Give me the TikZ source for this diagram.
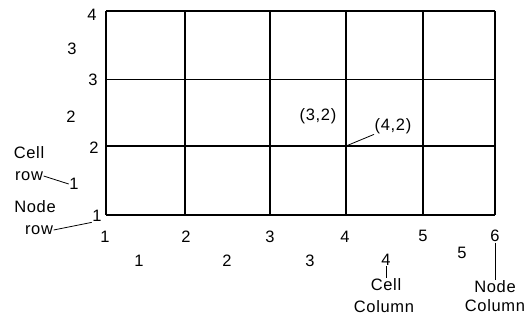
\documentclass[tikz,border=0pt]{standalone}
\usepackage{fontspec}
\setmainfont{Liberation Sans}[LetterSpace=4]
\begin{document}
\begin{tikzpicture}[x=1pt,y=-1pt,
  lbl/.style={inner sep=0.5pt,font=\fontsize{16.5}{18}\selectfont},
  thick grid/.style={line width=1.5pt},
  thin grid/.style={line width=0.8pt},
  leader/.style={line width=0.8pt}]
\useasboundingbox (0,0) rectangle (529,322);
% horizontal lines
\draw[thick grid] (106,11) -- (495,11);
\draw[thin grid] (106,79) -- (495,79);
\draw[thick grid] (106,146) -- (495,146);
\draw[thick grid] (106,215) -- (495,215);
% vertical lines
\foreach \x in {106,185,270,346,423,495}
  \draw[thick grid] (\x,11) -- (\x,215);
\coordinate (p42) at (346,146);
% node row labels
\node[lbl] (nr4) at (92,15) {4};
\node[lbl] (nr3) at (93,80) {3};
\node[lbl] (nr2) at (94,148) {2};
\node[lbl] (nr1) at (97,216) {1};
% cell row labels
\node[lbl] (cr3) at (72,49) {3};
\node[lbl] (cr2) at (71,117) {2};
\node[lbl] (cr1) at (74,184) {1};
\node[lbl] (cellw) at (29,153) {Cell};
\node[lbl] (cellrow) at (29,176) {row};
\node[lbl] (nodew) at (35,207) {Node};
\node[lbl] (noderow) at (39,230) {row};
\draw[leader] (cellrow.east) -- (cr1.west);
\draw[leader] (noderow.east) -- (nr1.south west);
% node column labels
\node[lbl] (nc1) at (105,237) {1};
\node[lbl] (nc2) at (186,237) {2};
\node[lbl] (nc3) at (270,237) {3};
\node[lbl] (nc4) at (345,237) {4};
\node[lbl] (nc5) at (423,236) {5};
\node[lbl] (nc6) at (495,236) {6};
% cell column labels
\node[lbl] (cc1) at (139,261) {1};
\node[lbl] (cc2) at (227,261) {2};
\node[lbl] (cc3) at (310,261) {3};
\node[lbl] (cc4) at (386,260) {4};
\node[lbl] (cc5) at (462,253) {5};
\node[lbl] (cellc) at (386,285) {Cell};
\node[lbl] (cellcol) at (384,307) {Column};
\node[lbl] (nodec) at (495,287) {Node};
\node[lbl] (nodecol) at (495,306) {Column};
\draw[leader] (cc4.south) -- (cellc.north);
\draw[leader] (nc6.south) -- (nodec.north);
% cell/node annotations
\node[lbl] (c32) at (318,116) {(3,2)};
\node[lbl] (n42) at (393,126) {(4,2)};
\draw[leader] (p42) -- (n42.south west);
\end{tikzpicture}
\end{document}
